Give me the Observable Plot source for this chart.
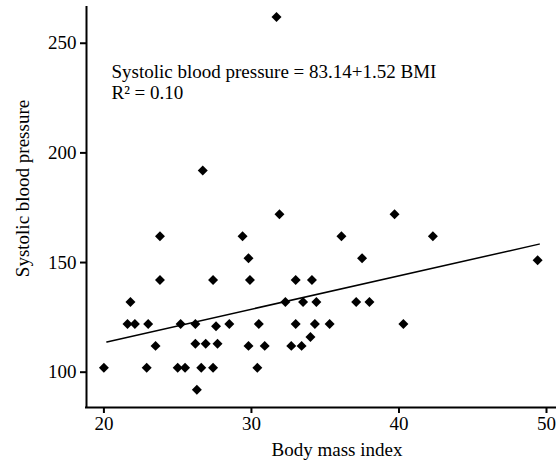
<!DOCTYPE html>
<html><head><meta charset="utf-8">
<script src="https://cdn.jsdelivr.net/npm/d3@7"></script>
<script src="https://cdn.jsdelivr.net/npm/@observablehq/plot@0.6"></script>
<style>body{margin:0;background:#fff}</style>
</head><body><div id="chart"></div>
<script>
const bmi = [20.0, 21.8, 21.6, 22.1, 23.0, 22.9, 23.5, 23.8, 23.8, 25.0, 25.5, 25.2, 26.2, 26.2, 26.3, 26.7, 26.6, 26.9, 27.4, 27.4, 27.6, 27.7, 28.5, 29.4, 29.8, 29.9, 29.8, 30.5, 30.4, 30.9, 31.9, 32.3, 33.0, 33.0, 32.7, 33.4, 33.5, 34.0, 34.1, 34.3, 34.4, 35.3, 36.1, 37.5, 37.1, 38.0, 39.7, 40.3, 42.3, 49.4, 31.7];
const sbp = [102, 132, 122, 122, 122, 102, 112, 162, 142, 102, 102, 122, 122, 113, 92, 192, 102, 113, 102, 142, 121, 113, 122, 162, 152, 142, 112, 122, 102, 112, 172, 132, 142, 122, 112, 112, 132, 116, 142, 122, 132, 122, 162, 152, 132, 132, 172, 122, 162, 151, 262];
const xTicks = [20, 30, 40, 50];
const yTicks = [100, 150, 200, 250];
const fitX = [20.2, 49.5];
const fitY = [113.8, 158.4];
const eqText = "Systolic blood pressure = 83.14+1.52 BMI";
const r2Text = "R² = 0.10";
const xLabel = "Body mass index";
const yLabel = "Systolic blood pressure";

const points = bmi.map((x, i) => ({x, y: sbp[i]}));
const fit = fitX.map((x, i) => ({x, y: fitY[i]}));
const xDom = [18.82, 50.61];
const yDom = [83.9, 266.3];

const chart = Plot.plot({
  width: 559, height: 466,
  marginLeft: 86, marginRight: 4, marginTop: 7, marginBottom: 59,
  style: {fontFamily: "'Liberation Serif', 'Times New Roman', serif", fontSize: "19px", color: "#000", background: "#fff"},
  x: {domain: xDom},
  y: {domain: yDom},
  marks: [
    Plot.axisX({ticks: xTicks, tickSize: 6, tickPadding: 3, strokeWidth: 2, label: null}),
    Plot.axisY({ticks: yTicks, tickSize: 6, tickPadding: 4, strokeWidth: 2, label: null}),
    Plot.ruleX([xDom[0]], {stroke: "black", strokeWidth: 2, strokeLinecap: "square"}),
    Plot.ruleY([yDom[0]], {stroke: "black", strokeWidth: 2, strokeLinecap: "square"}),
    Plot.line(fit, {x: "x", y: "y", stroke: "black", strokeWidth: 1.5}),
    Plot.dot(points, {x: "x", y: "y", symbol: "diamond2", r: 4.5, fill: "black", stroke: "none"}),
    Plot.text([eqText], {frameAnchor: "top-left", text: d => d, textAnchor: "start", lineAnchor: "bottom", dx: 25, dy: 70}),
    Plot.text([r2Text], {frameAnchor: "top-left", text: d => d, textAnchor: "start", lineAnchor: "bottom", dx: 25, dy: 91}),
    Plot.text([xLabel], {frameAnchor: "bottom", text: d => d, textAnchor: "middle", lineAnchor: "bottom", dx: 16, dy: 48}),
    Plot.text([yLabel], {frameAnchor: "left", text: d => d, rotate: -90, textAnchor: "middle", lineAnchor: "middle", dx: -64, dy: -19})
  ]
});
document.getElementById("chart").append(chart);
</script>
</body></html>
